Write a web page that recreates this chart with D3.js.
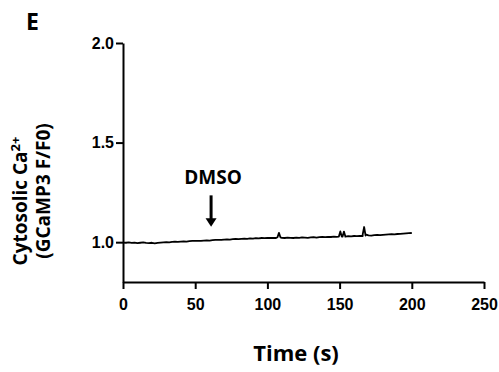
<!DOCTYPE html>
<html lang="en">
<head>
    <meta charset="UTF-8">
    <script src="https://d3js.org/d3.v7.min.js"></script>
    <title>Cytosolic Ca2+ - DMSO</title>
    <style>
        body { margin: 0; background: #fff; }
        svg { display: block; }
        .tick text { font-family: "Liberation Sans", Arial, sans-serif; font-weight: bold; font-size: 16px; }
        .lbl { font-family: "Open Sans", sans-serif; font-weight: bold; fill: #000; }
    </style>
</head>
<body>
    <svg id="chart" width="499" height="372"></svg>

    <script>
        // baseline trace, sampled every 2 s from 0 to 200 s
        const sampleStep = 2;
        const ratio = [
            0.998, 0.997, 0.999, 0.996, 0.998, 0.995, 0.997, 0.999, 0.996, 0.995,
            0.997, 0.994, 0.996, 0.998, 0.999, 1.000, 0.999, 1.001, 1.002, 1.001,
            1.003, 1.004, 1.003, 1.005, 1.006, 1.006, 1.007, 1.006, 1.008, 1.009,
            1.008, 1.010, 1.011, 1.012, 1.011, 1.013, 1.014, 1.013, 1.015, 1.016,
            1.015, 1.017, 1.018, 1.017, 1.019, 1.018, 1.020, 1.019, 1.021, 1.020,
            1.022, 1.021, 1.022, 1.021, 1.023, 1.022, 1.021, 1.023, 1.022, 1.021,
            1.023, 1.022, 1.024, 1.023, 1.022, 1.024, 1.025, 1.023, 1.025, 1.026,
            1.025, 1.027, 1.026, 1.028, 1.027, 1.029, 1.028, 1.029, 1.030, 1.029,
            1.031, 1.030, 1.032, 1.031, 1.033, 1.034, 1.033, 1.035, 1.036, 1.035,
            1.037, 1.038, 1.039, 1.040, 1.039, 1.041, 1.042, 1.043, 1.044, 1.045,
            1.046
        ];
        // short transients [time s, peak value]
        const spikeTimes = [108, 150.5, 153, 167];
        const spikePeaks = [1.047, 1.054, 1.053, 1.076];

        const xTicks = [0, 50, 100, 150, 200, 250];
        const yTicks = [1.0, 1.5, 2.0];

        // DMSO addition marker
        const drugLabel = "DMSO";
        const drugTime = 61;

        const svg = d3.select("#chart");

        const x = d3.scaleLinear().domain([0, 250]).range([123, 484]);
        const y = d3.scaleLinear().domain([0.8, 2.0]).range([282, 43]);

        // merge the baseline and the spikes into one sorted trace
        let pts = ratio.map((v, i) => [i * sampleStep, v]);
        spikeTimes.forEach((t, i) => {
            pts = pts.filter(p => Math.abs(p[0] - t) > 0.9);
            pts.push([t - 1, spikePeaks[i] - 0.024 - (spikePeaks[i] - 1.05) * 0.5]);
            pts.push([t, spikePeaks[i]]);
            pts.push([t + 1, spikePeaks[i] - 0.024 - (spikePeaks[i] - 1.05) * 0.5]);
        });
        pts.sort((a, b) => a[0] - b[0]);

        // axes
        const xAxis = svg.append("g")
            .attr("transform", `translate(0,${y(0.8)})`)
            .call(d3.axisBottom(x).tickValues(xTicks).tickFormat(d3.format("d")).tickSize(7).tickSizeOuter(0));
        const yAxis = svg.append("g")
            .attr("transform", `translate(${x(0)},0)`)
            .call(d3.axisLeft(y).tickValues(yTicks).tickFormat(d3.format(".1f")).tickSize(7).tickSizeOuter(0));

        [xAxis, yAxis].forEach(g => {
            g.select(".domain").attr("stroke", "#000").attr("stroke-width", 2);
            g.selectAll(".tick line").attr("stroke", "#000").attr("stroke-width", 2);
            g.selectAll(".tick text").attr("fill", "#000");
        });
        xAxis.selectAll(".tick text").attr("dy", "1.1em");
        yAxis.selectAll(".tick text").attr("x", -9);

        // trace
        svg.append("path")
            .datum(pts)
            .attr("fill", "none")
            .attr("stroke", "#000")
            .attr("stroke-width", 1.8)
            .attr("stroke-linejoin", "round")
            .attr("d", d3.line().x(d => x(d[0])).y(d => y(d[1])));

        // arrow
        const ax = x(drugTime);
        const tipY = y(1.077), headY = y(1.12), tailY = y(1.235);
        svg.append("line")
            .attr("x1", ax).attr("x2", ax)
            .attr("y1", tailY).attr("y2", headY + 1)
            .attr("stroke", "#000").attr("stroke-width", 3);
        svg.append("path")
            .attr("d", `M${ax - 5.5},${headY} L${ax + 5.5},${headY} L${ax},${tipY} Z`)
            .attr("fill", "#000");
        svg.append("text")
            .attr("class", "lbl")
            .attr("x", ax + 2).attr("y", y(1.29))
            .attr("text-anchor", "middle")
            .attr("font-size", 19)
            .text(drugLabel);

        // titles
        svg.append("text")
            .attr("class", "lbl")
            .attr("x", 296).attr("y", 361)
            .attr("text-anchor", "middle")
            .attr("font-size", 22)
            .text("Time (s)");

        const yl1 = svg.append("text")
            .attr("class", "lbl")
            .attr("transform", "translate(27,201) rotate(-90)")
            .attr("text-anchor", "middle")
            .attr("font-size", 19);
        yl1.append("tspan").text("Cytosolic Ca");
        yl1.append("tspan").attr("dy", -7).attr("font-size", 13).text("2+");

        svg.append("text")
            .attr("class", "lbl")
            .attr("transform", "translate(50,191) rotate(-90)")
            .attr("text-anchor", "middle")
            .attr("font-size", 19)
            .text("(GCaMP3 F/F0)");

        svg.append("text")
            .attr("class", "lbl")
            .attr("x", 26).attr("y", 30)
            .attr("font-size", 23)
            .text("E");
    </script>
</body>
</html>
